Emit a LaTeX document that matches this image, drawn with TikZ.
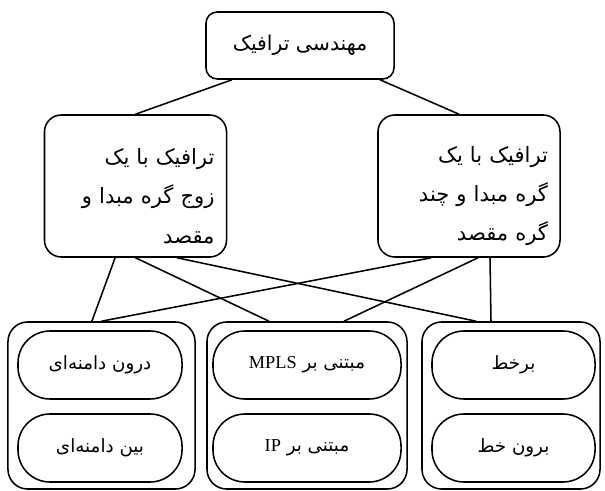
\documentclass[tikz,border=0pt]{standalone}
\usepackage{fontspec}
\usepackage{tikz}
\usetikzlibrary{positioning}
\newfontfamily\farsi[Script=Arabic]{DejaVu Sans}
\newfontfamily\latin{Liberation Serif}
\TeXXeTstate=1
\newcommand{\fa}[1]{\beginR#1\endR}
\newcommand{\en}[1]{\beginL{\latin #1}\endL{}}
\tikzset{
    topbox/.style={rectangle, draw, line width=1.1pt, rounded corners=8pt, minimum width=4.7cm, minimum height=1.675cm, font=\farsi\fontsize{14.5}{16}\selectfont},
    kindbox/.style={rectangle, draw, line width=1.1pt, rounded corners=12pt, minimum width=4.55cm, minimum height=3.55cm, text width=3.95cm, inner xsep=0.3cm, align=right, font=\farsi\fontsize{15}{28}\selectfont},
    groupbox/.style={rectangle, draw, line width=1.1pt, rounded corners=14pt, minimum height=4.175cm},
    pill/.style={rectangle, draw, line width=1.1pt, rounded corners=0.8cm, minimum height=1.7cm, font=\farsi\fontsize{13}{15}\selectfont},
    link/.style={line width=1.1pt}
}
\begin{document}
\begin{tikzpicture}[x=0.025cm, y=-0.025cm]
    \useasboundingbox (0,0) rectangle (605,491);

    \node [topbox] (te) at (300,45.5) {\fa{مهندسی ترافیک}};
    \node [kindbox] (pair) at (135.5,186) {\rule{0pt}{0.9cm}\fa{ترافیک با یک}\\\fa{زوج گره مبدا و}\\\fa{مقصد}};
    \node [kindbox] (multi) at (469,186) {\rule{0pt}{0.9cm}\fa{ترافیک با یک}\\\fa{گره مبدا و چند}\\\fa{گره مقصد}};

    % groups
    \node [groupbox, minimum width=4.675cm] (dom) at (101.5,405.5) {};
    \node [groupbox, minimum width=5cm] (base) at (307,405.5) {};
    \node [groupbox, minimum width=4.45cm] (line) at (511,405.5) {};

    \node [pill, minimum width=4.1cm] (intra) at (100,365) {\fa{درون دامنه‌ای}};
    \node [pill, minimum width=4.1cm] (inter) at (100,448) {\fa{بین دامنه‌ای}};
    \node [pill, minimum width=4.7cm] (mpls) at (307,365) {\fa{مبتنی بر \en{MPLS}}};
    \node [pill, minimum width=4.7cm] (ip) at (307,448) {\fa{مبتنی بر \en{IP}}};
    \node [pill, minimum width=4.075cm] (on) at (513.5,365) {\fa{برخط}};
    \node [pill, minimum width=4.075cm] (off) at (513.5,448) {\fa{برون خط}};

    \draw [link] ([xshift=-1.7cm]te.south) -- (pair.north);
    \draw [link] ([xshift=2cm]te.south) -- ([xshift=-0.25cm]multi.north);

    \draw [link] ([xshift=-0.51cm]pair.south) -- ([xshift=-0.24cm]dom.north);
    \draw [link] (pair.south) -- ([xshift=-0.95cm]base.north);
    \draw [link] ([xshift=1.04cm]pair.south) -- ([xshift=-0.875cm]line.north);
    \draw [link] ([xshift=-0.95cm]multi.south) -- (dom.north);
    \draw [link] ([xshift=0.225cm]multi.south) -- ([xshift=0.925cm]base.north);
    \draw [link] ([xshift=0.525cm]multi.south) -- ([xshift=-0.5cm]line.north);
\end{tikzpicture}
\end{document}
